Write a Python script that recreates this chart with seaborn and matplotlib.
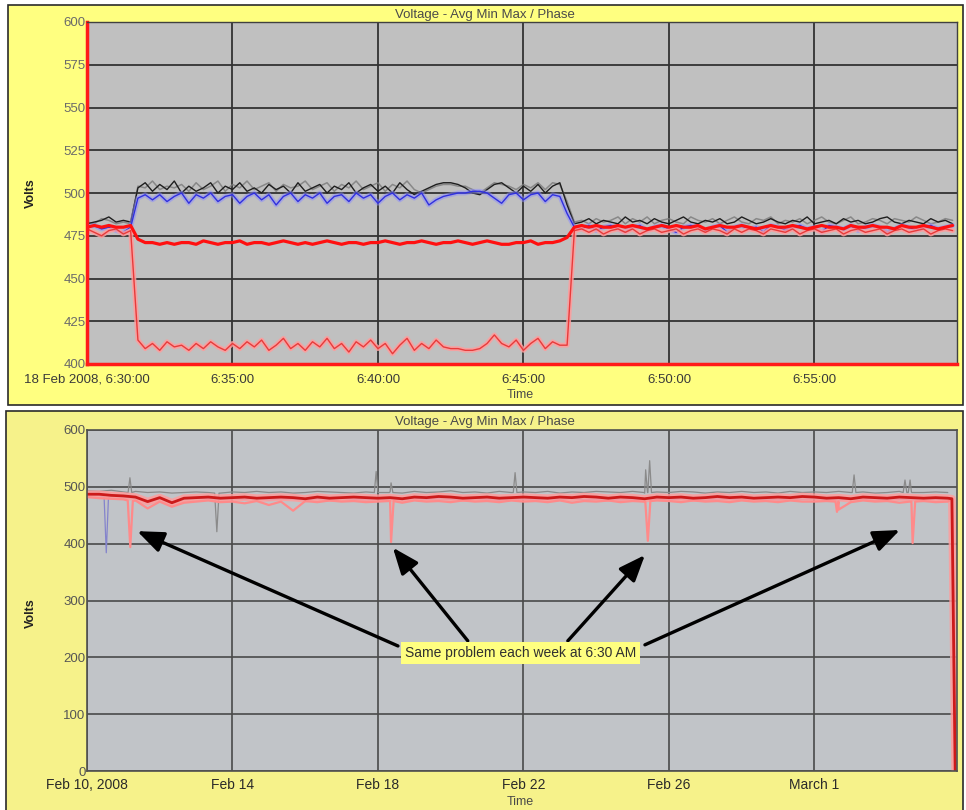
import pandas as pd
import matplotlib
matplotlib.use("Agg")
import matplotlib.pyplot as plt
import matplotlib.dates as mdates
from matplotlib.patches import Rectangle
import seaborn as sns

sns.set_style("white")
plt.rcParams['font.family'] = ['Liberation Sans', 'DejaVu Sans']

# ---------- top chart: 15 s samples from 18 Feb 2008 6:30:00 ----------
top_start = "2008-02-18 06:30:00"
top_max_a = [482, 483, 484, 486, 483, 484, 483, 503, 506, 501,
             505, 502, 507, 500, 504, 501, 503, 506, 500, 504,
             502, 506, 501, 503, 500, 505, 502, 504, 500, 506,
             501, 503, 505, 500, 504, 502, 506, 500, 503, 505,
             501, 504, 500, 506, 502, 499, 501, 503, 505, 506,
             506, 505, 503, 500, 499, 502, 505, 506, 503, 500,
             504, 501, 505, 500, 504, 506, 493, 482, 483, 485,
             482, 484, 483, 482, 486, 483, 484, 482, 485, 483,
             482, 484, 486, 483, 482, 484, 483, 485, 482, 483,
             486, 484, 482, 483, 485, 483, 482, 484, 483, 486,
             482, 483, 484, 482, 485, 483, 484, 482, 483, 485,
             486, 483, 482, 484, 483, 482, 485, 483, 484, 482]
top_max_b = [483, 482, 485, 484, 482, 483, 482, 504, 503, 507,
             502, 504, 503, 505, 501, 506, 502, 504, 507, 501,
             505, 503, 507, 502, 504, 506, 501, 505, 503, 504,
             507, 502, 504, 506, 501, 505, 503, 507, 502, 504,
             506, 501, 505, 503, 507, 502, 500, 502, 504, 505,
             505, 504, 504, 502, 500, 503, 506, 505, 504, 502,
             505, 503, 506, 502, 506, 505, 495, 483, 484, 482,
             485, 483, 484, 486, 482, 485, 483, 486, 482, 484,
             485, 483, 482, 486, 484, 483, 485, 482, 484, 486,
             483, 482, 485, 484, 486, 482, 484, 483, 485, 482,
             484, 486, 483, 482, 484, 486, 482, 483, 485, 484,
             482, 485, 484, 483, 486, 484, 482, 483, 485, 484]
top_avg_b = [480, 481, 479, 480, 478, 477, 480, 497, 499, 496,
             499, 495, 498, 500, 494, 499, 497, 500, 495, 498,
             499, 494, 498, 500, 496, 499, 493, 498, 500, 495,
             499, 497, 500, 494, 498, 499, 495, 500, 497, 499,
             494, 498, 500, 496, 499, 497, 500, 493, 496, 498,
             499, 500, 500, 501, 501, 500, 497, 494, 499, 500,
             496, 499, 500, 495, 499, 498, 488, 480, 479, 481,
             478, 480, 481, 479, 477, 480, 481, 478, 480, 481,
             479, 477, 480, 481, 480, 478, 480, 481, 477, 480,
             481, 479, 480, 477, 481, 480, 478, 480, 481, 479,
             480, 477, 481, 480, 479, 481, 478, 480, 481, 480,
             477, 479, 481, 480, 478, 480, 481, 479, 480, 481]
top_avg_a = [480, 481, 480, 481, 480, 480, 481, 473, 471, 471,
             470, 471, 470, 471, 471, 470, 472, 471, 470, 471,
             471, 472, 470, 471, 471, 470, 471, 472, 471, 470,
             471, 470, 471, 472, 471, 470, 471, 471, 470, 471,
             471, 472, 471, 470, 471, 471, 472, 471, 470, 471,
             471, 472, 471, 470, 471, 472, 471, 470, 470, 471,
             471, 472, 470, 471, 471, 472, 474, 480, 481, 480,
             481, 480, 480, 481, 480, 481, 480, 479, 480, 481,
             480, 481, 480, 480, 481, 479, 480, 481, 480, 480,
             481, 480, 479, 480, 481, 480, 480, 481, 480, 479,
             480, 481, 480, 480, 479, 481, 480, 480, 481, 480,
             480, 479, 481, 480, 480, 481, 480, 479, 480, 481]
top_min_a = [479, 477, 475, 478, 479, 476, 478, 414, 409, 412,
             408, 413, 410, 411, 408, 412, 409, 413, 410, 408,
             412, 409, 413, 410, 414, 408, 411, 415, 409, 412,
             408, 413, 410, 415, 409, 412, 407, 413, 410, 414,
             409, 412, 406, 411, 415, 408, 412, 409, 414, 410,
             409, 409, 408, 408, 409, 412, 417, 412, 410, 414,
             408, 412, 415, 409, 413, 411, 411, 478, 479, 477,
             479, 476, 478, 479, 477, 479, 476, 478, 479, 477,
             478, 479, 476, 478, 479, 477, 479, 478, 476, 479,
             477, 479, 478, 476, 479, 478, 477, 479, 476, 478,
             479, 477, 478, 479, 476, 478, 479, 477, 478, 479,
             476, 478, 479, 477, 478, 479, 476, 478, 479, 478]
top_ticks = ["2008-02-18 06:30", "2008-02-18 06:35", "2008-02-18 06:40",
             "2008-02-18 06:45", "2008-02-18 06:50", "2008-02-18 06:55"]
top_ticklabels = ["18 Feb 2008, 6:30:00", "6:35:00", "6:40:00",
                  "6:45:00", "6:50:00", "6:55:00"]
top_yticks = [400, 425, 450, 475, 500, 525, 550, 575, 600]

# ---------- bottom chart: 8 h samples from Feb 10 2008 ----------
bot_start = "2008-02-10"
bot_avg = [487, 487, 485, 484, 482, 474, 481, 472, 480, 481, 482, 480,
           481, 482, 480, 481, 482, 481, 479, 482, 480, 481, 482, 481,
           480, 481, 479, 482, 481, 483, 482, 480, 481, 482, 480, 481,
           482, 481, 480, 482, 481, 483, 482, 480, 482, 481, 479, 482,
           481, 482, 480, 481, 483, 481, 482, 480, 481, 482, 481, 483,
           482, 480, 481, 479, 482, 481, 480, 482, 481, 480, 481, 480]
bot_min = [482, 480, 479, 478, 476, 462, 474, 465, 472, 474, 476, 473,
           474, 471, 475, 468, 474, 458, 475, 473, 476, 474, 475, 473,
           474, 475, 472, 476, 474, 475, 473, 476, 474, 475, 473, 476,
           474, 475, 473, 476, 472, 475, 474, 476, 473, 475, 474, 476,
           475, 473, 476, 474, 475, 473, 476, 474, 475, 473, 476, 474,
           474, 475, 460, 473, 476, 474, 475, 472, 474, 475, 473, 474]
bot_max = [493, 492, 494, 491, 492, 490, 491, 489, 490, 491, 490, 489,
           491, 490, 492, 490, 491, 489, 490, 492, 491, 490, 489, 491,
           490, 491, 489, 492, 490, 491, 493, 490, 491, 489, 492, 490,
           491, 490, 492, 489, 491, 490, 492, 491, 490, 492, 489, 491,
           490, 492, 491, 489, 491, 490, 492, 490, 491, 489, 492, 490,
           491, 490, 492, 490, 491, 489, 490, 492, 491, 490, 491, 490]
bot_blue = [486, 485, 484, 482, 480, 476, 479, 474, 478, 480, 479, 478,
            479, 478, 480, 477, 479, 478, 477, 479, 478, 480, 478, 477,
            478, 479, 477, 480, 478, 479, 478, 477, 479, 478, 476, 479,
            478, 477, 479, 478, 480, 477, 478, 479, 477, 478, 479, 478,
            477, 479, 478, 476, 479, 478, 477, 479, 478, 477, 479, 478,
            479, 478, 477, 479, 478, 476, 479, 478, 477, 479, 478, 479]
# short spikes (day offset, volts)
min_spk_day = [1.12, 1.19, 1.26, 8.29, 8.36, 8.43, 15.35, 15.42, 15.49,
               20.58, 20.62, 20.66, 22.63, 22.70, 22.77]
min_spk_val = [476, 394, 475, 475, 403, 475, 474, 405, 475,
               474, 456, 474, 474, 401, 474]
max_spk_day = [1.13, 1.18, 1.23, 3.51, 3.57, 3.63, 7.90, 7.95, 8.00,
               8.31, 8.36, 8.41, 11.72, 11.77, 11.82, 15.31, 15.36, 15.41,
               15.42, 15.47, 15.52, 21.04, 21.09, 21.14, 22.44, 22.49, 22.54,
               22.58, 22.63, 22.68]
max_spk_val = [490, 516, 490, 489, 421, 489, 490, 527, 490,
               490, 507, 490, 490, 525, 490, 490, 530, 490,
               490, 546, 490, 490, 521, 490, 490, 512, 490,
               490, 512, 490]
blue_spk_day = [0.47, 0.53, 0.59]
blue_spk_val = [482, 384, 481]
end_day = [23.78, 23.87]
end_val = [479, 0]
bot_ticks = ["2008-02-10", "2008-02-14", "2008-02-18", "2008-02-22",
             "2008-02-26", "2008-03-01"]
bot_ticklabels = ["Feb 10, 2008", "Feb 14", "Feb 18", "Feb 22", "Feb 26", "March 1"]
bot_yticks = [0, 100, 200, 300, 400, 500, 600]
note_text = "Same problem each week at 6:30 AM"
title = "Voltage - Avg Min Max / Phase"

W, H = 966, 810
fig = plt.figure(figsize=(W / 100, H / 100), dpi=100)
fig.patch.set_facecolor("white")
# yellow panels
fig.add_artist(Rectangle((8 / W, 1 - 405 / H), 955 / W, 400 / H, transform=fig.transFigure,
                         facecolor="#ffff80", edgecolor="#2a2a2a", lw=1.2, zorder=-1))
fig.add_artist(Rectangle((6 / W, -0.01), 957 / W, 1 - 411 / H + 0.01, transform=fig.transFigure,
                         facecolor="#f6f28a", edgecolor="#2a2a2a", lw=1.2, zorder=-1))

# ---------------- top ----------------
ax1 = fig.add_axes([87 / W, 1 - 364 / H, 870 / W, 342 / H])
ax1.set_facecolor("#c0c0c0")
top = pd.DataFrame({
    "time": pd.date_range(top_start, periods=len(top_max_a), freq="15s"),
    "max_a": top_max_a, "max_b": top_max_b, "avg_b": top_avg_b,
    "avg_a": top_avg_a, "min_a": top_min_a,
})
sns.lineplot(data=top, x="time", y="max_b", ax=ax1, color="#7a7a7a", lw=1.1, alpha=0.8)
sns.lineplot(data=top, x="time", y="max_a", ax=ax1, color="#1e1e1e", lw=1.0)
sns.lineplot(data=top, x="time", y="avg_b", ax=ax1, color="#8c8cff", lw=3.5, alpha=0.5)
sns.lineplot(data=top, x="time", y="avg_b", ax=ax1, color="#2f2fe0", lw=1.0)
sns.lineplot(data=top, x="time", y="min_a", ax=ax1, color="#ff9c9c", lw=3.5, alpha=0.85)
sns.lineplot(data=top, x="time", y="min_a", ax=ax1, color="#e83a3a", lw=1.0)
sns.lineplot(data=top, x="time", y="avg_a", ax=ax1, color="#ff1010", lw=2.3)

ax1.set_xlim(pd.Timestamp("2008-02-18 06:30:00"), pd.Timestamp("2008-02-18 06:59:54"))
ax1.set_ylim(400, 600)
ax1.set_xticks(mdates.date2num(pd.to_datetime(top_ticks).to_pydatetime()))
ax1.set_xticklabels(top_ticklabels, fontsize=9.5, color="#3a3a3a")
ax1.set_yticks(top_yticks)
ax1.set_yticklabels([str(v) for v in top_yticks], fontsize=9.5, color="#6a6a6a")
ax1.tick_params(axis="x", length=0, pad=7)
ax1.tick_params(axis="y", length=0, pad=1)
ax1.set_xlabel("")
ax1.set_ylabel("")
ax1.grid(True, color="#333333", lw=1.3)
ax1.set_axisbelow(True)
for s in ["top", "right"]:
    ax1.spines[s].set_color("#404040")
    ax1.spines[s].set_linewidth(1.0)
for s in ["left", "bottom"]:
    ax1.spines[s].set_color("#ff1a1a")
    ax1.spines[s].set_linewidth(2.5)

# ---------------- bottom ----------------
ax2 = fig.add_axes([87 / W, 1 - 771 / H, 870 / W, 341 / H])
ax2.set_facecolor("#c1c4c8")
t0 = pd.Timestamp(bot_start)
base_t = pd.date_range(bot_start, periods=len(bot_avg), freq="8h")


def with_extra(base_vals, days, vals):
    t = list(base_t) + [t0 + pd.Timedelta(days=d) for d in days]
    df = pd.DataFrame({"time": t, "volts": list(base_vals) + list(vals)})
    return df.sort_values("time")


d_max = with_extra(bot_max, max_spk_day, max_spk_val)
d_blue = with_extra(bot_blue, blue_spk_day, blue_spk_val)
d_min = with_extra(bot_min, min_spk_day + end_day, min_spk_val + end_val)
d_avg = with_extra(bot_avg, end_day, end_val)

sns.lineplot(data=d_max, x="time", y="volts", ax=ax2, color="#8a8a8a", lw=0.9, estimator=None)
sns.lineplot(data=d_blue, x="time", y="volts", ax=ax2, color="#8484cc", lw=0.9, estimator=None)
sns.lineplot(data=d_avg, x="time", y="volts", ax=ax2, color="#ff9c9c", lw=5.5, alpha=0.85, estimator=None)
sns.lineplot(data=d_min, x="time", y="volts", ax=ax2, color="#ff8a8a", lw=1.6, estimator=None)
sns.lineplot(data=d_avg, x="time", y="volts", ax=ax2, color="#cc1a1a", lw=2.0, estimator=None)

ax2.set_xlim(t0, t0 + pd.Timedelta(days=23.92))
ax2.set_ylim(0, 600)
ax2.set_xticks(mdates.date2num(pd.to_datetime(bot_ticks).to_pydatetime()))
narrow = ["Liberation Sans Narrow", "Liberation Sans", "DejaVu Sans"]
ax2.set_xticklabels(bot_ticklabels, fontsize=10, color="#2a2a2a", family=narrow)
ax2.set_yticks(bot_yticks)
ax2.set_yticklabels([str(v) for v in bot_yticks], fontsize=9.5, color="#555555", family=narrow)
ax2.tick_params(axis="x", length=0, pad=5)
ax2.tick_params(axis="y", length=0, pad=1)
ax2.set_xlabel("")
ax2.set_ylabel("")
ax2.grid(True, color="#4a4a4a", lw=1.2)
ax2.set_axisbelow(True)
for s in ax2.spines.values():
    s.set_color("#505050")
    s.set_linewidth(1.2)


def bd(day):
    return mdates.date2num(t0 + pd.Timedelta(days=day))


# arrows: (tip day, tip volts, tail day, tail volts)
arrows = [(1.38, 422, 8.55, 220), (8.41, 393, 10.47, 229),
          (15.34, 380, 13.22, 229), (22.35, 424, 15.34, 222)]
for tx, ty, sx, sy in arrows:
    ax2.annotate("", xy=(bd(tx), ty), xytext=(bd(sx), sy), zorder=4,
                 arrowprops=dict(arrowstyle="-|>,head_length=0.8,head_width=0.32",
                                 mutation_scale=20, color="black", lw=2.4,
                                 shrinkA=0, shrinkB=0))
ax2.text(bd(8.74), 208, note_text, fontsize=10, color="#303030", ha="left", va="center",
         zorder=5, bbox=dict(boxstyle="square,pad=0.3", facecolor="#ffff80", edgecolor="none"))

# titles and axis names
for ty, ly, xy_ in [(15, 193, 395), (422, 613, 802)]:
    fig.text(485 / W, 1 - ty / H, title, ha="center", va="center", fontsize=9.5, color="#4a4a4a")
    fig.text(31 / W, 1 - ly / H, "Volts", rotation=90, ha="center", va="center",
             fontsize=9, fontweight="bold", color="#222222")
    fig.text(520 / W, 1 - xy_ / H, "Time", ha="center", va="center", fontsize=9, color="#4a4a4a")

fig.savefig("out.png", dpi=100)
